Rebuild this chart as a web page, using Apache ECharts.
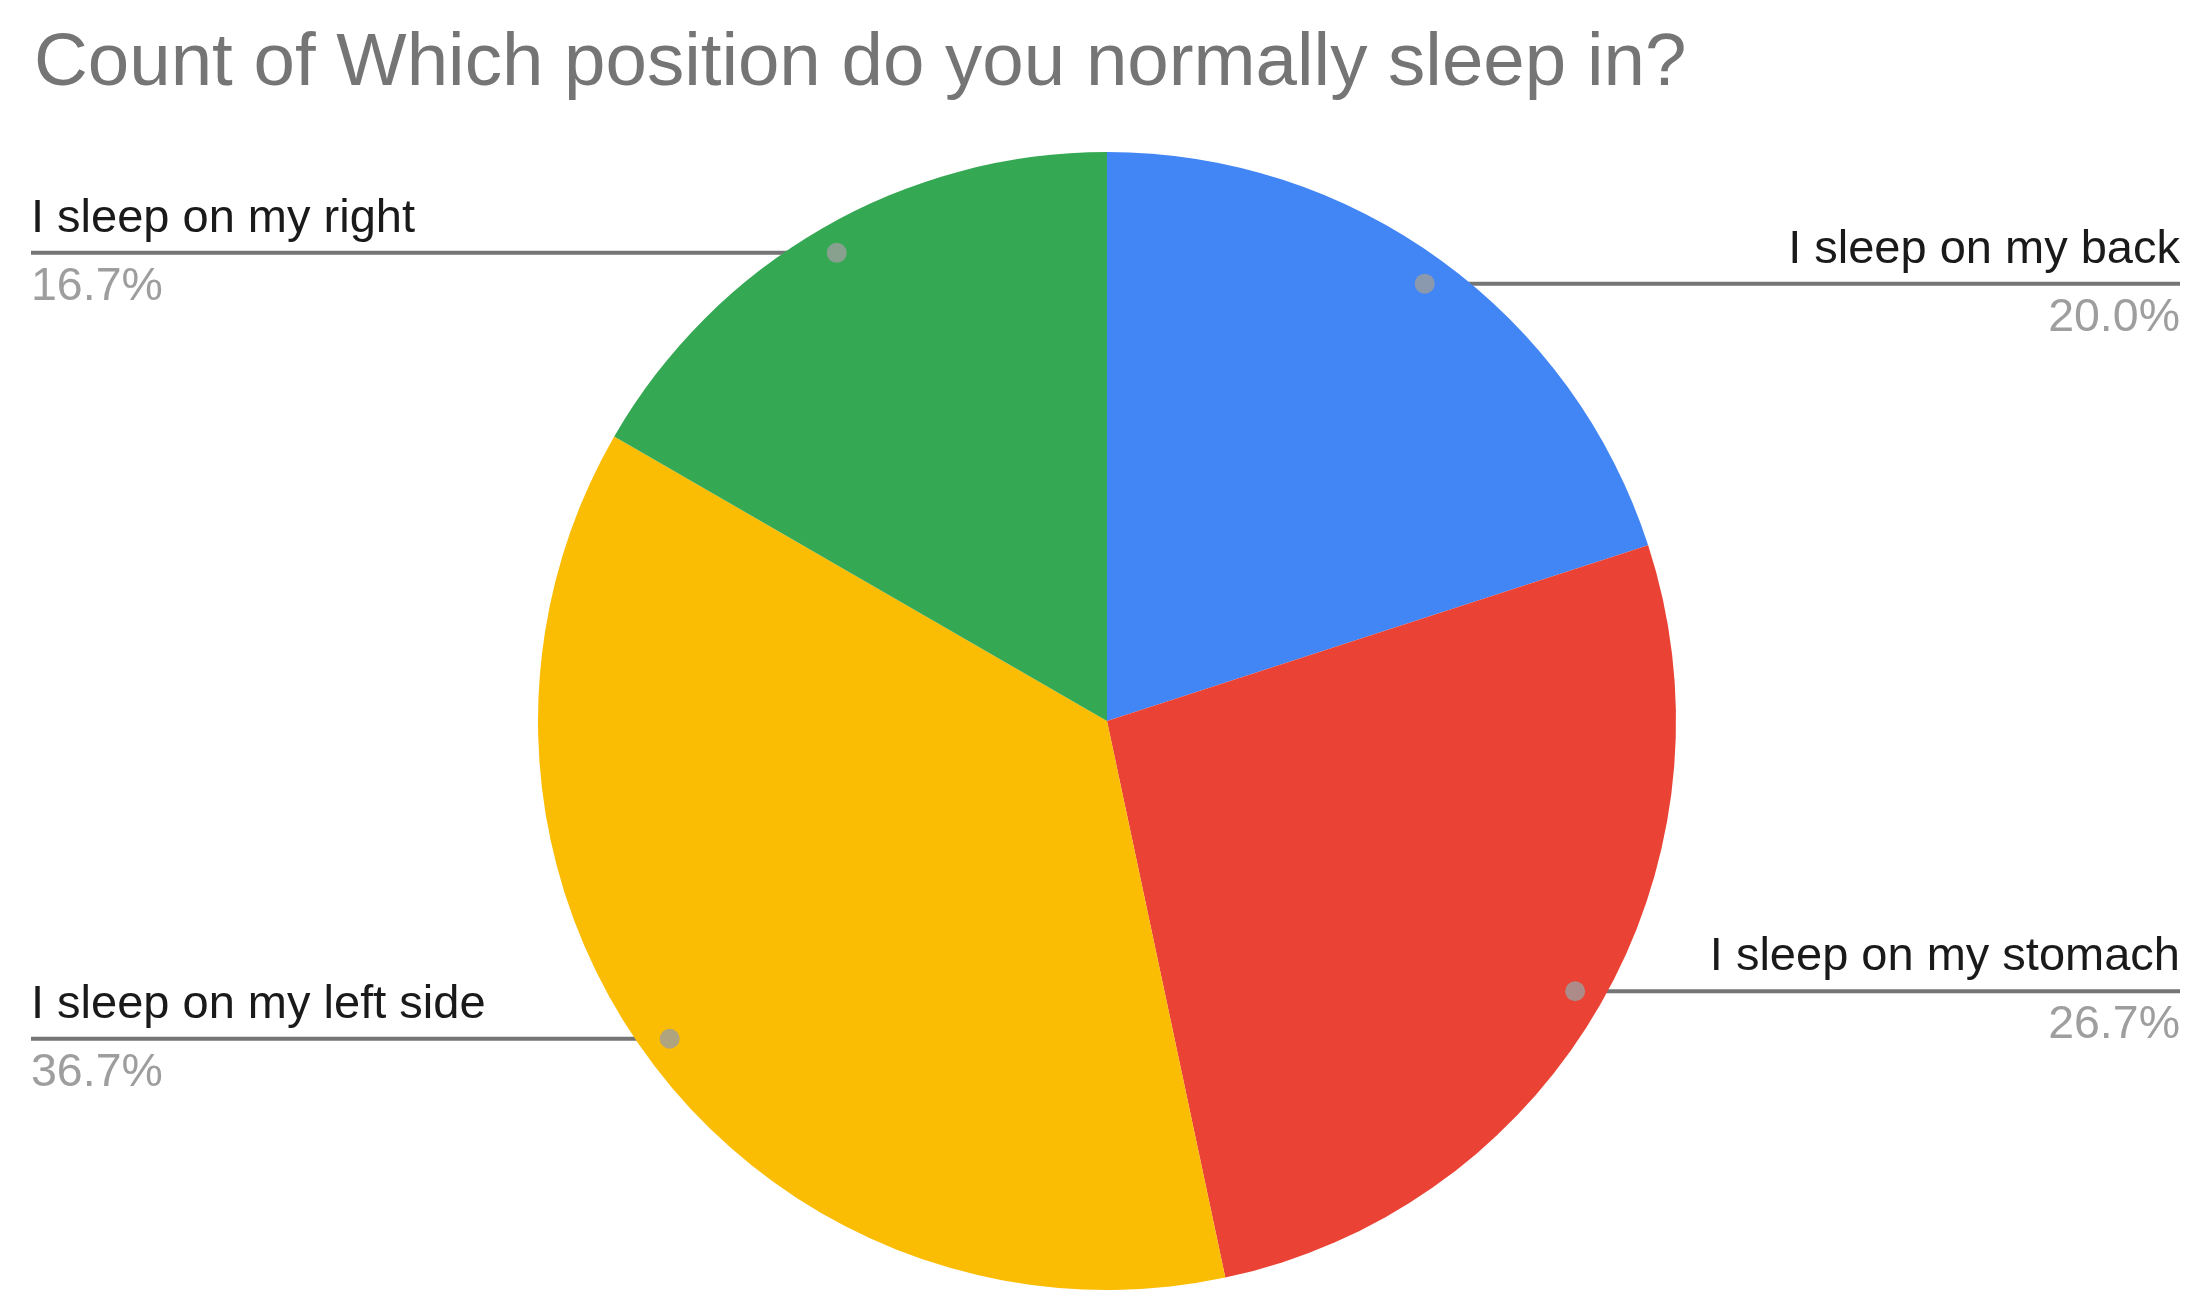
<!DOCTYPE html>
<html>
<head>
<meta charset="utf-8">
<script src="https://cdn.jsdelivr.net/npm/echarts@6/dist/echarts.min.js"></script>
<style>
html,body{margin:0;padding:0;background:#fff;}
#c{width:2204px;height:1313px;}
</style>
</head>
<body>
<div id="c"></div>
<script>
const titleText = 'Count of Which position do you normally sleep in?';
const categories = ['I sleep on my back', 'I sleep on my stomach', 'I sleep on my left side', 'I sleep on my right'];
const counts = [6, 8, 11, 5];
const colors = ['#4285f4', '#ea4335', '#fbbc04', '#34a853'];

const FONT = '"Liberation Sans", Arial, sans-serif';
const CX = 1107, CY = 721, R = 569, ANCHOR = 0.95;
const total = counts.reduce((a, b) => a + b, 0);
const mids = [];
let acc = 0;
counts.forEach(v => { mids.push(acc + v / 2); acc += v; });

const chart = echarts.init(document.getElementById('c'), null, {renderer: 'canvas'});
chart.setOption({
  animation: false,
  backgroundColor: '#ffffff',
  title: {
    text: titleText,
    left: 29, top: 22,
    textStyle: {fontFamily: FONT, fontSize: 74.5, fontWeight: 'normal', color: '#757575'}
  },
  polar: {center: [CX, CY], radius: R},
  angleAxis: {type: 'value', min: 0, max: total, startAngle: 90, clockwise: true, show: false},
  radiusAxis: {type: 'value', min: 0, max: 1, show: false},
  series: [
    {
      type: 'pie',
      center: [CX, CY],
      radius: [0, R],
      startAngle: 90,
      clockwise: true,
      z: 2,
      data: categories.map((c, i) => ({name: c, value: counts[i], itemStyle: {color: colors[i]}})),
      label: {
        show: true,
        position: 'outside',
        formatter: p => '{n|' + p.name + '}\n{p|' + p.percent.toFixed(1) + '%}',
        rich: {
          n: {fontFamily: FONT, fontSize: 47, color: '#1a1a1a', lineHeight: 68},
          p: {fontFamily: FONT, fontSize: 46.5, color: '#9e9e9e', lineHeight: 68}
        }
      },
      labelLine: {show: true, length: 10, length2: 10, lineStyle: {color: '#757575', width: 4}},
      labelLayout: function (params) {
        const W = chart.getWidth();
        const pts = params.labelLinePoints;
        const p0 = pts[0];
        const dx = p0[0] - CX, dy = p0[1] - CY;
        const d = Math.sqrt(dx * dx + dy * dy);
        const ax = CX + dx / d * R * ANCHOR, ay = CY + dy / d * R * ANCHOR;
        const isLeft = dx < 0;
        const ex = isLeft ? 31 : W - 24;
        return {
          x: ex, y: ay,
          align: isLeft ? 'left' : 'right',
          verticalAlign: 'middle',
          labelLinePoints: [[ax, ay], [ex, ay], [ex, ay]]
        };
      }
    },
    {
      type: 'scatter',
      coordinateSystem: 'polar',
      z: 10,
      symbol: 'circle',
      symbolSize: 20,
      itemStyle: {color: '#9e9e9e'},
      silent: true,
      data: mids.map(m => [ANCHOR, m])
    }
  ]
});
</script>
</body>
</html>
